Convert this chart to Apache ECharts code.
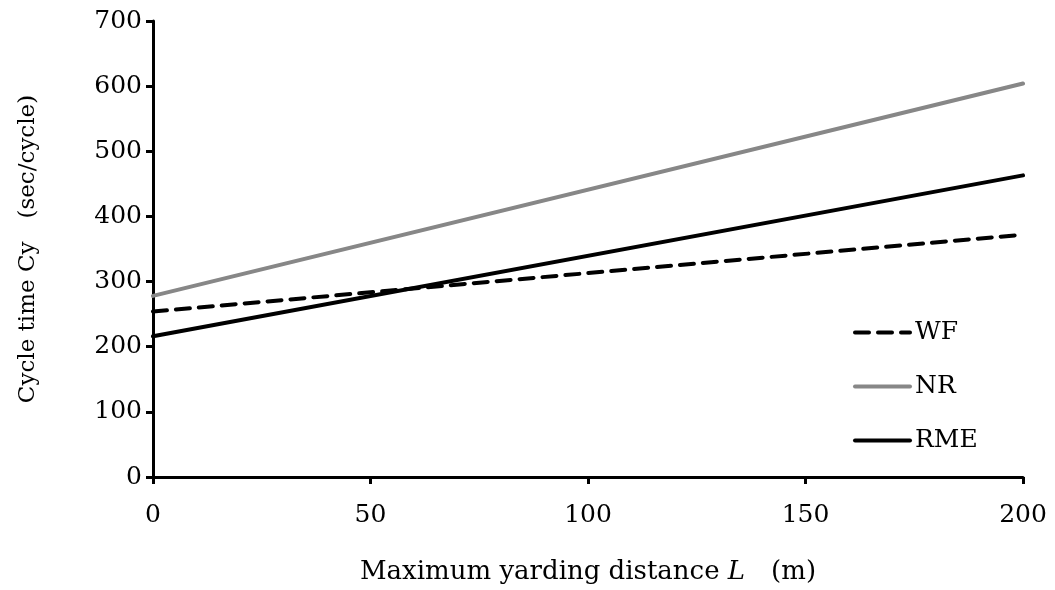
<!DOCTYPE html>
<html><head><meta charset="utf-8">
<script src="https://cdn.jsdelivr.net/npm/echarts@6/dist/echarts.min.js"></script>
<style>html,body{margin:0;padding:0;background:#fff}#c{width:1055px;height:590px}</style>
</head><body><div id="c"></div>
<script>
const distances = [0, 200];
const wf = [254, 372];
const nr = [278, 604];
const rme = [216, 463];
const seriesNames = ['WF', 'NR', 'RME'];
const FONT = 'DejaVu Serif';
const FS = 25;
const chart = echarts.init(document.getElementById('c'));
const pairs = v => distances.map((d, i) => [d, v[i]]);
chart.setOption({
  animation: false,
  textStyle: { fontFamily: FONT, color: '#000' },
  grid: { left: 153, right: 32, top: 21, bottom: 112 },
  legend: {
    orient: 'vertical', left: 853, top: 320, padding: 0, itemWidth: 55, itemHeight: 14, itemGap: 29,
    itemStyle: { opacity: 0 },
    lineStyle: { width: 4 },
    textStyle: { fontFamily: FONT, fontSize: FS, color: '#000' },
    data: seriesNames
  },
  xAxis: {
    type: 'value', min: 0, max: 200, interval: 50,
    axisLine: { lineStyle: { color: '#000', width: 3 } },
    axisTick: { show: true, length: 7, lineStyle: { color: '#000', width: 3 } },
    axisLabel: { fontSize: FS, color: '#000', margin: 26, fontFamily: FONT },
    splitLine: { show: false },
    name: '{a|Maximum yarding distance }{i|L}{a|\u3000(m)}',
    nameLocation: 'middle', nameGap: 82,
    nameTextStyle: { rich: { a: { fontSize: 26, fontFamily: FONT, color: '#000' }, i: { fontSize: 26, fontFamily: FONT, fontStyle: 'italic', color: '#000' } } }
  },
  yAxis: {
    type: 'value', min: 0, max: 700, interval: 100,
    axisLine: { show: true, lineStyle: { color: '#000', width: 3 } },
    axisTick: { show: true, length: 7, lineStyle: { color: '#000', width: 3 } },
    axisLabel: { fontSize: FS, color: '#000', margin: 11, fontFamily: FONT },
    splitLine: { show: false },
    name: 'Cycle time Cy\u3000(sec/cycle)', nameLocation: 'middle', nameGap: 113,
    nameTextStyle: { fontSize: 23, color: '#000', fontFamily: FONT }
  },
  series: [
    { name: 'WF', type: 'line', data: pairs(wf), symbol: 'none', lineStyle: { color: '#000', width: 4, type: [14, 9], cap: 'round' }, itemStyle: { color: '#000' } },
    { name: 'NR', type: 'line', data: pairs(nr), symbol: 'none', lineStyle: { color: '#878787', width: 4, cap: 'round' }, itemStyle: { color: '#878787' } },
    { name: 'RME', type: 'line', data: pairs(rme), symbol: 'none', lineStyle: { color: '#000', width: 4, cap: 'round' }, itemStyle: { color: '#000' } }
  ]
});
</script></body></html>
